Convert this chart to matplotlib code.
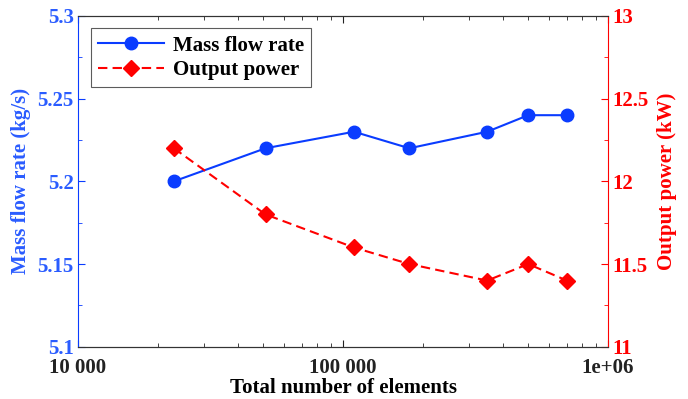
import matplotlib.pyplot as plt
from matplotlib.ticker import FixedLocator, FixedFormatter, MultipleLocator, NullFormatter, FuncFormatter

plt.rcParams['font.family'] = ['Liberation Serif', 'DejaVu Serif']
plt.rcParams['font.weight'] = 'bold'

elements = [23000, 51000, 110000, 178000, 350000, 500000, 700000]
mass_flow = [5.20, 5.22, 5.23, 5.22, 5.23, 5.24, 5.24]  # kg/s
power = [12.2, 11.8, 11.6, 11.5, 11.4, 11.5, 11.4]  # kW

xticks = [1e4, 1e5, 1e6]
xtick_labels = ['10 000', '100 000', '1e+06']

blue = '#0a3cff'
label_blue = '#2a5cff'
red = '#ff0000'
fs = 15

fig = plt.figure(figsize=(6.88, 3.99), dpi=100)
ax = fig.add_axes([0.1134, 0.131, 0.7703, 0.829])
ax2 = ax.twinx()

l1, = ax.plot(elements, mass_flow, color=blue, marker='o', markersize=9,
              linewidth=1.5, label='Mass flow rate')
l2, = ax2.plot(elements, power, color=red, marker='D', markersize=8.5,
               linestyle='--', dashes=(4.5, 2.5), linewidth=1.5, label='Output power')

ax.set_xscale('log')
ax.set_xlim(1e4, 1e6)
ax.xaxis.set_major_locator(FixedLocator(xticks))
ax.xaxis.set_major_formatter(FixedFormatter(xtick_labels))
ax.xaxis.set_minor_formatter(NullFormatter())

ax.set_ylim(5.1, 5.3)
ax.yaxis.set_major_locator(MultipleLocator(0.05))
ax.yaxis.set_minor_locator(MultipleLocator(0.025))

ax2.set_ylim(11, 13)
ax2.yaxis.set_major_locator(MultipleLocator(0.5))
ax2.yaxis.set_minor_locator(MultipleLocator(0.25))

fmt = FuncFormatter(lambda v, _: '%g' % v)
ax.yaxis.set_major_formatter(fmt)
ax2.yaxis.set_major_formatter(fmt)

ax.tick_params(axis='x', which='both', direction='in', top=True, colors='#222222',
               labelsize=fs, pad=8)
ax.tick_params(axis='x', which='major', length=5)
ax.tick_params(axis='x', which='minor', length=3)
ax.tick_params(axis='y', which='both', direction='in', colors=blue, labelsize=fs, pad=3)
ax.tick_params(axis='y', which='major', length=5)
ax.tick_params(axis='y', which='minor', length=3)
ax2.tick_params(axis='y', which='both', direction='in', colors=red, labelsize=fs, pad=3)
ax2.tick_params(axis='y', which='major', length=5)
ax2.tick_params(axis='y', which='minor', length=3)

for lab in ax.get_yticklabels():
    lab.set_color(label_blue)

ax.spines['left'].set_color(blue)
ax2.spines['left'].set_visible(False)
ax2.spines['right'].set_color(red)
ax.spines['right'].set_visible(False)
for s in ('top', 'bottom'):
    ax.spines[s].set_color('#333333')
    ax2.spines[s].set_color('#333333')

ax.set_xlabel('Total number of elements', fontsize=fs, fontweight='bold', labelpad=0)
ax.set_ylabel('Mass flow rate (kg/s)', fontsize=fs, fontweight='bold', color=label_blue,
              labelpad=5)
ax2.set_ylabel('Output power (kW)', fontsize=fs, fontweight='bold', color=red, labelpad=6)

leg = ax.legend(handles=[l1, l2], loc='upper left', fontsize=fs, frameon=True,
                fancybox=False, edgecolor='#333333', handlelength=3.2,
                handletextpad=0.4, borderaxespad=0.6, labelspacing=0.2,
                borderpad=0.35)
leg.get_frame().set_linewidth(0.8)

fig.savefig('out.png', dpi=100)
